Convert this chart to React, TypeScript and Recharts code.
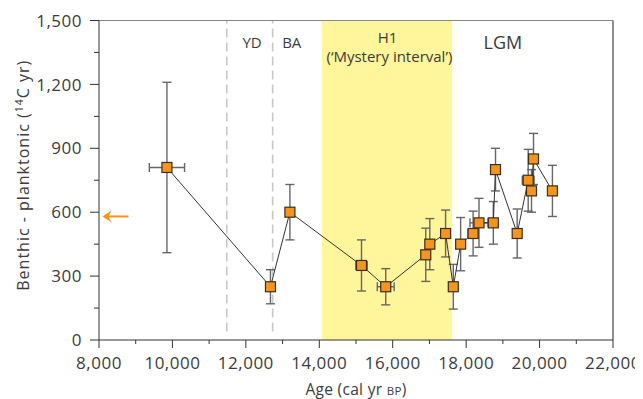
import React from 'react';
import {
  ScatterChart,
  Scatter,
  XAxis,
  YAxis,
  ErrorBar,
  ReferenceArea,
  ReferenceLine,
  ReferenceDot,
} from 'recharts';

// ---- data ----
const ages = [9850, 12670, 13200, 15150, 15810, 16900, 17010, 17440, 17650, 17850, 18190, 18350, 18740, 18800, 19390, 19690, 19780, 19835, 20350];
const offsets = [810, 250, 600, 350, 250, 400, 450, 500, 250, 450, 500, 550, 550, 800, 500, 750, 700, 850, 700];
const ageErrors = [480, 80, 0, 155, 230, 0, 60, 0, 0, 60, 140, 245, 60, 60, 0, 160, 0, 0, 60];
const offsetErrors = [400, 80, 130, 120, 85, 125, 120, 110, 105, 125, 105, 115, 100, 100, 115, 145, 100, 120, 120];

const xTicks = [8000, 9000, 10000, 11000, 12000, 13000, 14000, 15000, 16000, 17000, 18000, 19000, 20000, 21000, 22000];
const xLabelTicks = [8000, 10000, 12000, 14000, 16000, 18000, 20000, 22000];
const yTicks = [0, 150, 300, 450, 600, 750, 900, 1050, 1200, 1350, 1500];
const yLabelTicks = [0, 300, 600, 900, 1200, 1500];

const periodBoundaries = [11480, 12730];
const h1Start = 14070;
const h1End = 17620;
const modernOffset = 580;
const arrowAge = 8450;

const periodLabels = [
  { text: 'YD', age: 12170, value: 1394, size: 15 },
  { text: 'BA', age: 13250, value: 1394, size: 15 },
  { text: 'H1', age: 15860, value: 1418, size: 15 },
  { text: '(\u2018Mystery interval\u2019)', age: 15910, value: 1329, size: 15 },
  { text: 'LGM', age: 19000, value: 1397, size: 18 },
];

const data = ages.map((a, i) => ({
  age: a,
  offset: offsets[i],
  yErr: offsetErrors[i],
  xErrBig: ageErrors[i] >= 100 ? ageErrors[i] : 0,
  xErrSmall: ageErrors[i] > 0 && ageErrors[i] < 100 ? ageErrors[i] : 0,
}));

const FONT = '"Open Sans", sans-serif';
const TEXT = '#3c3c3c';
const AXIS = '#333';
const X_TICK_SIZE = 8;
const X_TICK_MARGIN = 8.5;
const Y_TICK_SIZE = 9;
const Y_TICK_MARGIN = 8;
const TICK_FONT = 17;

const fmt = (v: number) => v.toLocaleString('en-US');

const XTick = (props: any) => {
  const { x, y, payload } = props;
  const v = payload.value;
  const major = xLabelTicks.includes(v);
  const axisY = y - X_TICK_SIZE - X_TICK_MARGIN;
  return (
    <g>
      <line x1={x} x2={x} y1={axisY} y2={axisY + (major ? X_TICK_SIZE : 4)} stroke={AXIS} strokeWidth={1} />
      {major && (
        <text x={x} y={y} dy="0.71em" textAnchor="middle" fontFamily={FONT} fontSize={TICK_FONT} letterSpacing={0.5} fill={TEXT}>
          {fmt(v)}
        </text>
      )}
    </g>
  );
};

const YTick = (props: any) => {
  const { x, y, payload } = props;
  const v = payload.value;
  const major = yLabelTicks.includes(v);
  const axisX = x + Y_TICK_SIZE + Y_TICK_MARGIN;
  return (
    <g>
      <line x1={axisX - (major ? Y_TICK_SIZE : 5)} x2={axisX} y1={y} y2={y} stroke={AXIS} strokeWidth={1} />
      {major && (
        <text x={x} y={y} dy="0.36em" textAnchor="end" fontFamily={FONT} fontSize={TICK_FONT} letterSpacing={0.5} fill={TEXT}>
          {fmt(v)}
        </text>
      )}
    </g>
  );
};

const Marker = (props: any) => {
  const { cx, cy } = props;
  const s = 10;
  return <rect x={cx - s / 2} y={cy - s / 2} width={s} height={s} fill="#F7941D" stroke="#3a2e1e" strokeWidth={1.2} />;
};

const Empty = () => <g />;

const Arrow = (props: any) => {
  const { cx, cy } = props;
  const half = 13;
  return (
    <g>
      <line x1={cx - half + 2} x2={cx + half} y1={cy} y2={cy} stroke="#F7941D" strokeWidth={2} />
      <path d={`M ${cx - half} ${cy} L ${cx - half + 9} ${cy - 6} L ${cx - half + 6} ${cy} L ${cx - half + 9} ${cy + 6} Z`} fill="#F7941D" />
    </g>
  );
};

const makeLabel = (text: string, size: number) => (props: any) => {
  const { cx, cy } = props;
  return (
    <text x={cx} y={cy} dy="0.36em" textAnchor="middle" fontFamily={FONT} fontSize={size} fill={TEXT}>
      {text}
    </text>
  );
};

const XLabel = (props: any) => {
  const { viewBox } = props;
  const cx = viewBox.x + viewBox.width / 2;
  const y = viewBox.y + 55;
  return (
    <text x={cx} y={y} textAnchor="middle" fontFamily={FONT} fontSize={15.5} letterSpacing={0.3} fill={TEXT}>
      Age (cal yr <tspan fontSize={11.5}>BP</tspan>)
    </text>
  );
};

const YLabel = (props: any) => {
  const { viewBox } = props;
  const cx = 20.5;
  const cy = viewBox.y + viewBox.height / 2 - 5;
  return (
    <text x={cx} y={cy} textAnchor="middle" fontFamily={FONT} fontSize={16} letterSpacing={1} fill={TEXT} transform={`rotate(-90 ${cx} ${cy})`}>
      Benthic - planktonic (<tspan fontSize={10.5} dy={-6}>14</tspan><tspan dy={6}>C yr)</tspan>
    </text>
  );
};

export default function App() {
  return (
    <ScatterChart width={635} height={399} margin={{ top: 12.5, right: 30, bottom: 27, left: 0 }}>
      <ReferenceArea x1={h1Start} x2={h1End} y1={0} y2={1500} fill="#FFF59A" fillOpacity={1} stroke="none" />
      {periodBoundaries.map((b) => (
        <ReferenceLine
          key={b}
          segment={[{ x: b, y: 40 }, { x: b, y: 1500 }]}
          stroke="#c8c8c8"
          strokeWidth={1.6}
          strokeDasharray="9 5"
        />
      ))}
      <ReferenceLine y={1500} stroke="#888" strokeWidth={1.2} />
      <ReferenceLine segment={[{ x: 22000, y: 0 }, { x: 22000, y: 1500 }]} stroke="#444" strokeWidth={1.2} />
      <XAxis
        type="number"
        dataKey="age"
        domain={[8000, 22000]}
        ticks={xTicks}
        interval={0}
        height={40}
        tickSize={X_TICK_SIZE}
        tickMargin={X_TICK_MARGIN}
        tickLine={false}
        tick={<XTick />}
        axisLine={{ stroke: AXIS, strokeWidth: 1 }}
        label={<XLabel />}
        allowDataOverflow
      />
      <YAxis
        type="number"
        dataKey="offset"
        domain={[0, 1500]}
        ticks={yTicks}
        interval={0}
        width={91}
        tickSize={Y_TICK_SIZE}
        tickMargin={Y_TICK_MARGIN}
        tickLine={false}
        tick={<YTick />}
        axisLine={{ stroke: AXIS, strokeWidth: 1 }}
        label={<YLabel />}
        allowDataOverflow
      />
      <Scatter data={data} isAnimationActive={false} line={{ stroke: '#333', strokeWidth: 1 }} lineType="joint" shape={<Marker />}>
        <ErrorBar dataKey="yErr" direction="y" width={4.5} stroke="#666" strokeWidth={1.4} isAnimationActive={false} />
        <ErrorBar dataKey="xErrBig" direction="x" width={4.5} stroke="#666" strokeWidth={1.4} isAnimationActive={false} />
      </Scatter>
      <Scatter data={data} isAnimationActive={false} shape={<Empty />}>
        <ErrorBar dataKey="xErrSmall" direction="x" width={4.5} stroke="#555" strokeWidth={1} isAnimationActive={false} />
      </Scatter>
      <ReferenceDot x={arrowAge} y={modernOffset} r={0} shape={<Arrow />} ifOverflow="visible" />
      {periodLabels.map((l) => (
        <ReferenceDot key={l.text} x={l.age} y={l.value} r={0} shape={makeLabel(l.text, l.size)} ifOverflow="visible" />
      ))}
    </ScatterChart>
  );
}
